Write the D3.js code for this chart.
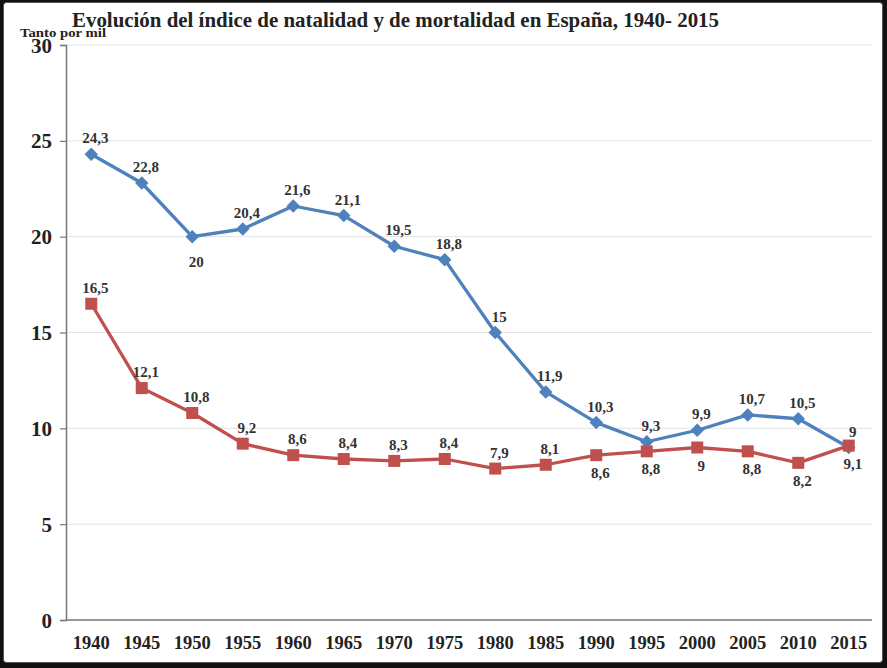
<!DOCTYPE html>
<html><head><meta charset="utf-8">
<script src="https://cdn.jsdelivr.net/npm/d3@7"></script>
<style>html,body{margin:0;padding:0;background:#000;}svg{display:block;}</style>
</head><body>
<svg id="chart" width="887" height="668"></svg>
<script>
const years = ["1940","1945","1950","1955","1960","1965","1970","1975","1980","1985","1990","1995","2000","2005","2010","2015"];
const natalidad = [24.3,22.8,20,20.4,21.6,21.1,19.5,18.8,15,11.9,10.3,9.3,9.9,10.7,10.5,9];
const mortalidad = [16.5,12.1,10.8,9.2,8.6,8.4,8.3,8.4,7.9,8.1,8.6,8.8,9,8.8,8.2,9.1];
const natalidadLabelPos = ["above","above","below","above","above","above","above","above","above","above","above","above","above","above","above","above"];
const mortalidadLabelPos = ["above","above","above","above","above","above","above","above","above","above","below","below","below","below","below","below"];
const yTicks = [0,5,10,15,20,25,30];
const title = "Evolución del índice de natalidad y de mortalidad en España, 1940- 2015";
const yAxisLabel = "Tanto por mil";

const svg = d3.select("#chart");
const font = "'Liberation Serif', 'Times New Roman', serif";

// frame
svg.append("rect").attr("x",0).attr("y",0).attr("width",887).attr("height",668).attr("fill","#111");
svg.append("rect").attr("x",3.5).attr("y",2.5).attr("width",879).attr("height",660)
  .attr("rx",3).attr("fill","#fff").attr("stroke","#555").attr("stroke-width",1);

const x = d3.scaleBand().domain(years).range([66,874]);
const y = d3.scaleLinear().domain([0,30]).range([620,45]);
const cx = d => x(d) + x.bandwidth()/2;

// gridlines
svg.append("g").selectAll("line").data(yTicks.filter(t=>t>0)).join("line")
  .attr("x1",66).attr("x2",872).attr("y1",d=>y(d)).attr("y2",d=>y(d))
  .attr("stroke","#e2e2e2").attr("stroke-width",1);

// y axis
const yAxis = svg.append("g").attr("transform","translate(66,0)")
  .call(d3.axisLeft(y).tickValues(yTicks).tickSize(6).tickPadding(8).tickFormat(d3.format("d")));
yAxis.select(".domain").attr("stroke","#777").attr("stroke-width",1.5);
yAxis.selectAll(".tick line").attr("stroke","#777").attr("stroke-width",1.2);
yAxis.selectAll("text").attr("font-family",font).attr("font-weight","bold")
  .attr("font-size",21).attr("fill","#222").attr("dy","0.34em");

// x axis
const xAxis = svg.append("g").attr("transform","translate(0,620)")
  .call(d3.axisBottom(x).tickSize(0).tickPadding(16));
xAxis.select(".domain").attr("stroke","#777").attr("stroke-width",1.5).attr("d","M66,0H872");
xAxis.selectAll("text").attr("font-family",font).attr("font-weight","bold")
  .attr("font-size",18.5).attr("fill","#222");

// title
svg.append("text").attr("x",72).attr("y",27).text(title)
  .attr("font-family",font).attr("font-weight","bold").attr("font-size",21.5)
  .attr("fill","#222").attr("textLength",647).attr("lengthAdjust","spacingAndGlyphs");
svg.append("text").attr("x",20).attr("y",37).text(yAxisLabel)
  .attr("font-family",font).attr("font-weight","bold").attr("font-size",12.5)
  .attr("fill","#222").attr("textLength",86).attr("lengthAdjust","spacingAndGlyphs");

const line = d3.line().x(d=>cx(d.year)).y(d=>y(d.v));
const series = [
  {vals: natalidad, pos: natalidadLabelPos, color:"#4F81BD", marker:"diamond", below:30},
  {vals: mortalidad, pos: mortalidadLabelPos, color:"#C0504D", marker:"square", below:23}
];
const fmt = v => String(v).replace(".", ",");

series.forEach(s => {
  const pts = years.map((yr,i)=>({year:yr, v:s.vals[i], pos:s.pos[i]}));
  svg.append("path").datum(pts).attr("d",line).attr("fill","none")
    .attr("stroke",s.color).attr("stroke-width",3.3).attr("stroke-linejoin","round");
  const g = svg.append("g");
  if (s.marker === "diamond") {
    g.selectAll("path").data(pts).join("path")
      .attr("d", d3.symbol(d3.symbolDiamond2, 115)())
      .attr("transform", d=>`translate(${cx(d.year)},${y(d.v)})`)
      .attr("fill", s.color);
  } else {
    g.selectAll("rect").data(pts).join("rect")
      .attr("x", d=>cx(d.year)-6).attr("y", d=>y(d.v)-6)
      .attr("width",12).attr("height",12).attr("fill", s.color);
  }
  svg.append("g").selectAll("text").data(pts).join("text")
    .attr("x", d=>cx(d.year)+4)
    .attr("y", d=> d.pos==="above" ? y(d.v)-11 : y(d.v)+s.below)
    .attr("text-anchor","middle")
    .attr("font-family",font).attr("font-weight","bold").attr("font-size",15)
    .attr("fill","#333").text(d=>fmt(d.v));
});
</script>
</body></html>
